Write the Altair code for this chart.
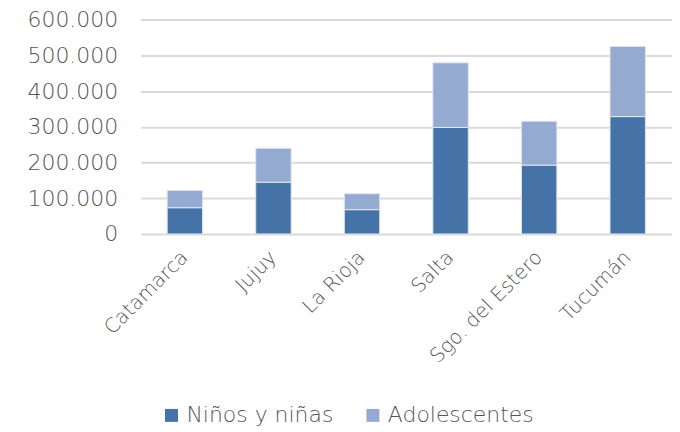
import altair as alt
import pandas as pd

provincias = ["Catamarca", "Jujuy", "La Rioja", "Salta", "Sgo. del Estero", "Tucumán"]
ninos = [73500, 145000, 68000, 298000, 192700, 328500]
adolescentes = [48300, 95000, 44600, 181000, 122900, 196500]
series = ["Niños y niñas", "Adolescentes"]
colores = ["#4573a7", "#95aad1"]

rows = []
for p, n, a in zip(provincias, ninos, adolescentes):
    rows.append({"prov": p, "serie": series[0], "valor": n, "orden": 0})
    rows.append({"prov": p, "serie": series[1], "valor": a, "orden": 1})
df = pd.DataFrame(rows)

FONT = "DejaVu Sans"
GRAY = "#555555"
W = 200

chart = alt.Chart(df).mark_bar(stroke="#dfe6f0", strokeWidth=1).encode(
    x=alt.X("prov:N", sort=provincias, title=None,
            scale=alt.Scale(paddingInner=0.6, paddingOuter=0.3),
            axis=alt.Axis(labelAngle=-45, labelAlign="right", labelBaseline="middle",
                          labelFontSize=20, labelColor=GRAY, labelFontWeight=W,
                          labelFont=FONT, ticks=False, domain=False, labelPadding=20)),
    y=alt.Y("valor:Q", stack="zero", title=None,
            scale=alt.Scale(domain=[0, 600000]),
            axis=alt.Axis(values=[0, 100000, 200000, 300000, 400000, 500000, 600000],
                          labelExpr="replace(format(datum.value, ',d'), /,/g, '.')",
                          labelFontSize=22, labelColor=GRAY, labelFont=FONT,
                          labelFontWeight=W,
                          ticks=False, domain=False, labelPadding=23,
                          gridColor="#d9d9d9", gridWidth=2)),
    color=alt.Color("serie:N", sort=series,
                    scale=alt.Scale(domain=series, range=colores),
                    legend=alt.Legend(title=None, orient="none", direction="horizontal",
                                      legendX=20, legendY=386, padding=0,
                                      symbolType="square", symbolSize=169,
                                      symbolStrokeWidth=0, labelOffset=4,
                                      labelFontSize=22, labelColor=GRAY, labelFont=FONT,
                                      labelFontWeight=W, columnPadding=28)),
    order=alt.Order("orden:Q"),
).properties(
    width=533, height=215,
    background="white",
    autosize=alt.AutoSizeParams(type="none"),
    padding={"left": 133, "top": 11, "right": 0, "bottom": 198},
).configure_view(stroke=None)

chart.save("out.html", embed_options={"renderer": "svg", "actions": False})
